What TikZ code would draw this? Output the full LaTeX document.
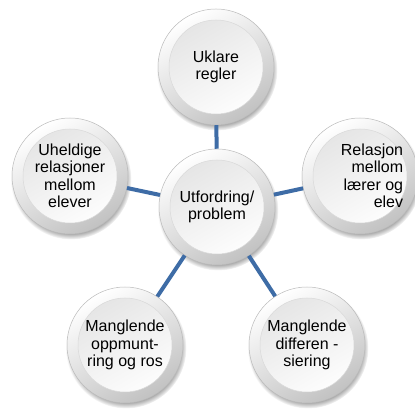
\documentclass[tikz,border=0pt]{standalone}
\usepackage{fontspec}
\setmainfont{Liberation Sans}
\usetikzlibrary{shadows, fadings}
\definecolor{mmLink}{HTML}{3E6CA6}
\definecolor{mmRim}{HTML}{8C8C8C}
\tikzset{
  beadtext/.style={font=\fontsize{16}{17.5}\selectfont, align=center, text=black},
  bead/.style={
    circle, minimum size=116pt, inner sep=0pt, beadtext,
    draw=mmRim!60, line width=0.5pt,
    top color=white, bottom color=gray!48, shading angle=30,
    circular drop shadow={shadow xshift=1pt, shadow yshift=-3pt, shadow scale=1.04},
    path picture={
      \shadedraw[draw=gray!30, top color=gray!22, bottom color=white, shading angle=30]
        (path picture bounding box.center) circle (47pt);
    }
  },
  link/.style={line width=4pt, mmLink}
}
\begin{document}
\begin{tikzpicture}[x=1pt, y=1pt]
  \useasboundingbox (0,0) rectangle (415,409);
  \node[bead] (hub) at (217,202) {Utfordring/\\problem};
  \node[bead] (regler) at (216,342) {Uklare\\regler};
  \node[bead, label={[beadtext, align=right, xshift=12pt]center:{Relasjon\\mellom\\lærer og\\elev}}] (laerer) at (360,233) {};
  \node[bead] (differ) at (307,64) {Manglende\\differen -\\siering};
  \node[bead] (ros) at (125,64) {Manglende\\oppmunt-\\ring og ros};
  \node[bead] (elever) at (70,233) {Uheldige\\relasjoner\\mellom\\elever};
  % spokes
  \draw[link] (hub) -- (regler);
  \draw[link] (hub) -- (laerer);
  \draw[link] (hub) -- (differ);
  \draw[link] (hub) -- (ros);
  \draw[link] (hub) -- (elever);
\end{tikzpicture}
\end{document}
